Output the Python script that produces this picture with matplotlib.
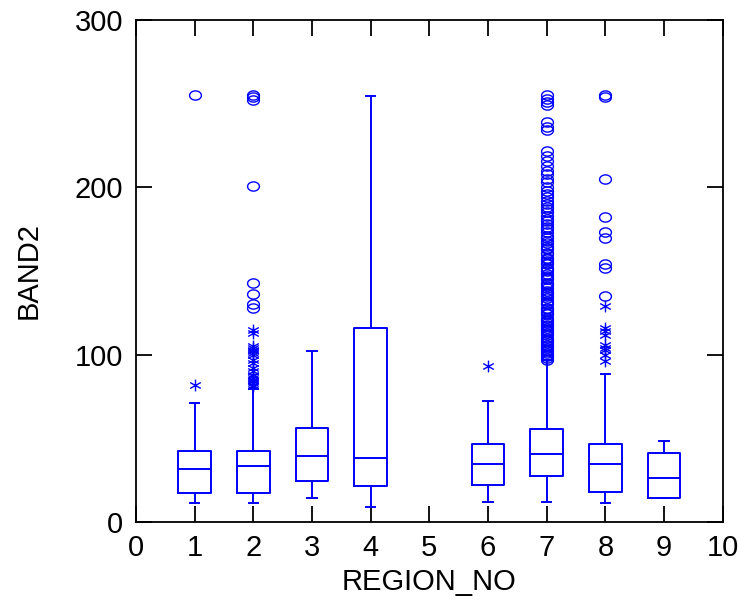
import numpy as np
import matplotlib
matplotlib.use("Agg")
import matplotlib.pyplot as plt
from matplotlib.path import Path

plt.rcParams['font.family'] = ['Liberation Sans', 'DejaVu Sans']

# box summaries per region
regions = [1, 2, 3, 4, 6, 7, 8, 9]
q1 = [17.1, 17.1, 24.5, 21.5, 22.1, 27.3, 18.1, 14.5]
med = [31.5, 33.5, 39.4, 38.4, 34.4, 40.4, 34.4, 26.5]
q3 = [42.6, 42.6, 56.3, 115.9, 46.4, 55.4, 46.4, 41.4]
whis_lo = [11.2, 11.2, 14.5, 9.2, 12.1, 12.1, 11.2, 14.3]
whis_hi = [71.3, 79.5, 102.3, 254.7, 72.5, 96.8, 88.4, 48.4]

# outside values (asterisks) and far outside values (circles)
stars = {
    1: [82],
    2: [81, 82, 83, 84, 85, 86, 87, 88, 90, 92, 95, 97, 100, 101, 102, 103, 104, 105, 113, 115],
    6: [93],
    8: [96, 100, 103, 104, 106, 112, 114, 116, 129],
}
circles = {
    1: [255],
    2: [128, 130, 136, 143, 201, 252, 254, 255],
    7: [97, 98, 99, 100, 101, 102, 103, 104, 105, 106, 107, 108, 109, 110, 112, 113,
        114, 115, 116, 117, 118, 119, 120, 121, 122, 124, 125, 126, 127, 128, 130, 131,
        132, 134, 135, 136, 137, 138, 140, 141, 142, 143, 145, 146, 147, 148, 150, 151,
        152, 154, 155, 156, 157, 158, 160, 161, 163, 164, 165, 167, 168, 170, 171, 173,
        175, 176, 178, 180, 181, 183, 185, 187, 188, 190, 192, 194, 196, 198, 200, 203,
        205, 208, 210, 213, 216, 219, 222, 234, 236, 239, 249, 251, 253, 255],
    8: [135, 152, 154, 170, 173, 182, 205, 254, 255],
}

blue = "#0000FF"

# slightly flattened circle and a 3-stroke asterisk as marker paths
t = np.linspace(0, 2 * np.pi, 40)
ellipse = Path(np.column_stack([np.cos(t), 0.78 * np.sin(t)]), closed=True)
ast = Path([(0, -1), (0, 1), (-0.9, -0.5), (0.9, 0.5), (-0.9, 0.5), (0.9, -0.5)],
           [Path.MOVETO, Path.LINETO, Path.MOVETO, Path.LINETO, Path.MOVETO, Path.LINETO])

fig = plt.figure(figsize=(7.39, 6.04), dpi=100)
ax = fig.add_axes([0.184, 0.1358, 0.794, 0.8311])

stats = []
for i in range(len(regions)):
    stats.append(dict(med=med[i], q1=q1[i], q3=q3[i], whislo=whis_lo[i],
                      whishi=whis_hi[i], fliers=[]))
lp = dict(color=blue, linewidth=1.4)
ax.bxp(stats, positions=regions, widths=0.56, capwidths=0.16, showfliers=False,
       boxprops=lp, whiskerprops=lp, capprops=lp, medianprops=lp, manage_ticks=False)

for r, vals in stars.items():
    ax.plot([r] * len(vals), vals, linestyle='none', marker=ast, markersize=8.5,
            markeredgecolor=blue, markeredgewidth=1.0)
for r, vals in circles.items():
    ax.plot([r] * len(vals), vals, linestyle='none', marker=ellipse, markersize=8.5,
            markerfacecolor='none', markeredgecolor=blue, markeredgewidth=1.0)

ax.set_xlim(0, 10)
ax.set_ylim(0, 300)
ax.set_xticks(range(0, 11))
ax.set_yticks([0, 100, 200, 300])
ax.tick_params(direction='in', length=11.5, width=1.3, top=True, right=True,
               labelsize=21, pad=9)
for s in ax.spines.values():
    s.set_linewidth(1.3)
ax.set_xlabel("REGION_NO", fontsize=21, labelpad=4)
ax.set_ylabel("BAND2", fontsize=21, labelpad=23)

fig.savefig("out.png", dpi=100)
